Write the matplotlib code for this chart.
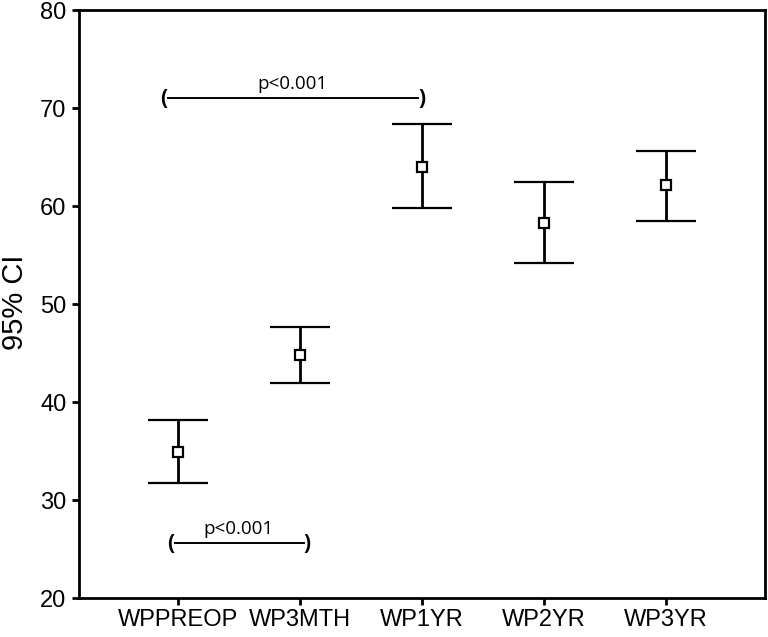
import numpy as np
import matplotlib.pyplot as plt

groups = ['WPPREOP', 'WP3MTH', 'WP1YR', 'WP2YR', 'WP3YR']
means = [34.9, 44.8, 64.0, 58.3, 62.1]
upper = [38.2, 47.65, 68.35, 62.4, 65.6]
lower = [31.7, 41.9, 59.8, 54.2, 58.5]

# significance brackets: (left x, right x, y level, label)
brackets = [(0.88, 3.0, 71.0, 'p<0.001'),
            (0.94, 2.06, 25.6, 'p<0.001')]

plt.rcParams['font.family'] = ['Liberation Sans', 'DejaVu Sans']

fig = plt.figure(figsize=(7.68, 6.37), dpi=100)
ax = fig.add_axes([0.1029, 0.0612, 0.8931, 0.9231])

x = np.arange(1, len(groups) + 1)
m = np.array(means)
yerr = [m - np.array(lower), np.array(upper) - m]
ax.errorbar(x, m, yerr=yerr, fmt='s', color='k', mfc='white', mec='k',
            ms=7.5, mew=1.6, ecolor='k', elinewidth=2, capsize=21.6, capthick=2)

for x0, x1, y, lab in brackets:
    ax.plot([x0 + 0.04, x1 - 0.03], [y, y], color='k', lw=1.4)
    ax.text(x0, y, '(', ha='center', va='center', fontsize=15, family='Open Sans',
            fontweight='bold')
    ax.text(x1, y, ')', ha='center', va='center', fontsize=15, family='Open Sans',
            fontweight='bold')
    ax.text((x0 + x1) / 2, y + 0.5, lab, ha='center', va='bottom', fontsize=13.5,
            family='Open Sans')

ax.set_xlim(0.19, 5.81)
ax.set_ylim(20, 80)
ax.set_yticks([20, 30, 40, 50, 60, 70, 80])
ax.set_xticks(x)
ax.set_xticklabels(groups, fontsize=17)
ax.tick_params(axis='y', labelsize=17, length=5, width=2, direction='out', pad=4)
ax.tick_params(axis='x', length=5, width=2, direction='out', pad=3)
for s in ax.spines.values():
    s.set_linewidth(2)
fig.text(15 / 768, 0.526, '95% CI', rotation=90, ha='center', va='center', fontsize=21)

fig.savefig('out.png', dpi=100)
